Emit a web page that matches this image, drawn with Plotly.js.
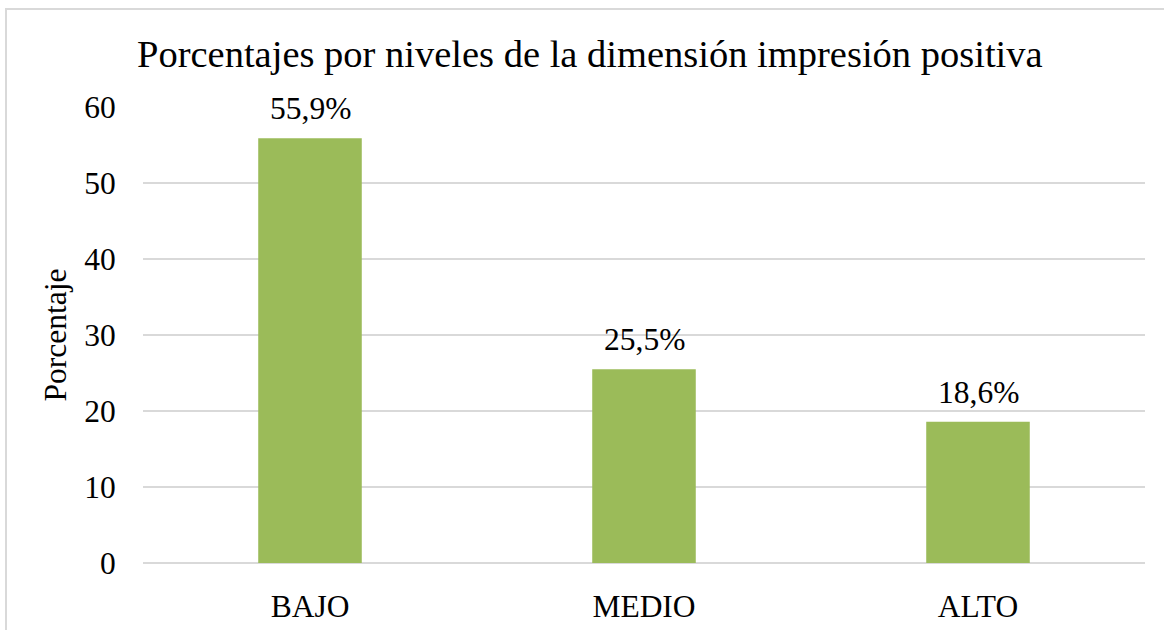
<!DOCTYPE html>
<html>
<head>
<meta charset="utf-8">
<script src="https://cdn.plot.ly/plotly-3.0.1.min.js"></script>
<style>
html,body{margin:0;padding:0;background:#fff;overflow:hidden;}
#chart{width:1164px;height:630px;}
#frame{position:absolute;left:5px;top:8px;width:2000px;height:2000px;border:2px solid #d9d9d9;pointer-events:none;}
</style>
</head>
<body>
<div id="chart"></div>
<div id="frame"></div>
<script>
const categories = ["BAJO", "MEDIO", "ALTO"];
const values = [55.9, 25.5, 18.6];
const yTicks = [0, 10, 20, 30, 40, 50, 60];

const font = "'Liberation Serif', 'Times New Roman', serif";
const fs = 31.5;

const labels = categories.map((c, i) => ({
  x: c, y: values[i], xref: "x", yref: "y",
  text: values[i].toFixed(1).replace(".", ",") + "%",
  showarrow: false, yanchor: "bottom", yshift: 10,
  font: {family: font, size: fs, color: "#000"}
}));

Plotly.newPlot("chart", [{
  type: "bar",
  x: categories,
  y: values,
  marker: {color: "#9bbb59"},
  width: 0.31,
  hoverinfo: "none"
}], {
  width: 1164,
  height: 630,
  margin: {l: 143, r: 19, t: 107, b: 67},
  paper_bgcolor: "#fff",
  plot_bgcolor: "#fff",
  font: {family: font, color: "#000"},
  showlegend: false,
  annotations: labels,
  title: {
    text: "Porcentajes por niveles de la dimensión impresión positiva",
    font: {family: font, size: 38.5, color: "#000"},
    xref: "container", yref: "container",
    x: 137/1164, xanchor: "left",
    y: 1 - 54/630, yanchor: "middle"
  },
  xaxis: {
    showgrid: false,
    showline: false,
    zeroline: false,
    tickfont: {family: font, size: fs, color: "#000"},
    ticks: "outside", ticklen: 15, tickcolor: "rgba(0,0,0,0)"
  },
  yaxis: {
    range: [0, 60],
    tickvals: yTicks,
    showgrid: true,
    gridcolor: "#d9d9d9",
    gridwidth: 2,
    zeroline: true,
    zerolinecolor: "#d9d9d9",
    zerolinewidth: 2,
    showline: false,
    tickfont: {family: font, size: fs, color: "#000"},
    ticks: "outside", ticklen: 20, tickcolor: "rgba(0,0,0,0)",
    title: {text: "Porcentaje", font: {family: font, size: fs, color: "#000"}, standoff: 8}
  }
}, {staticPlot: true});
</script>
</body>
</html>
